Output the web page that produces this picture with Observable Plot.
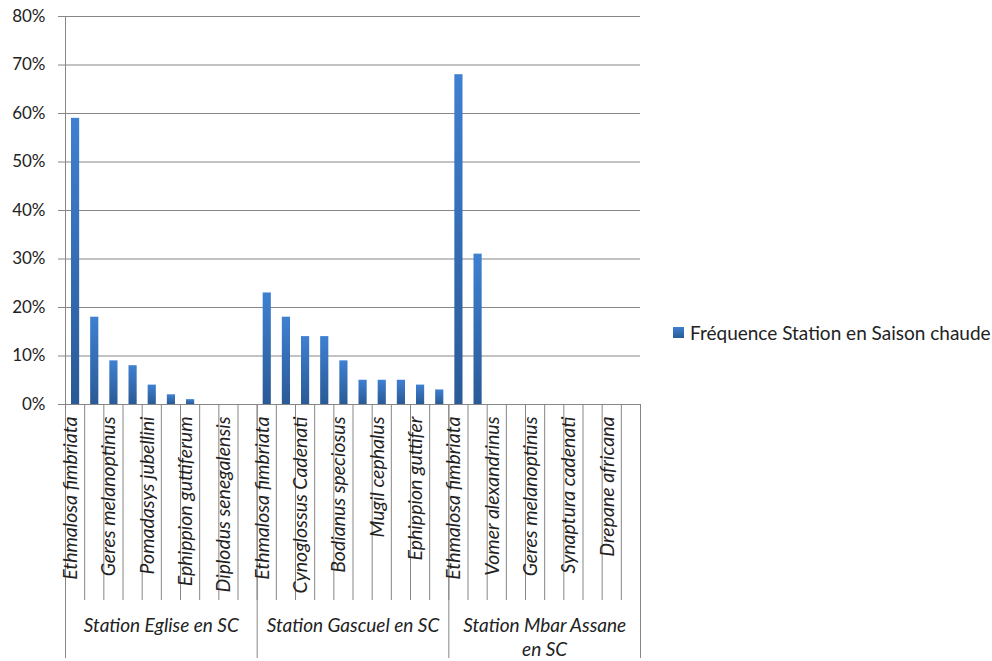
<!DOCTYPE html>
<html><head><meta charset="utf-8">
<script src="https://cdn.jsdelivr.net/npm/d3@7"></script>
<script src="https://cdn.jsdelivr.net/npm/@observablehq/plot@0.6"></script>
<style>
body{margin:0;background:#fff;}
#wrap{position:relative;width:992px;height:661px;}
#legend{position:absolute;left:673px;top:321px;font-family:Lato,sans-serif;font-size:19px;color:#222;display:flex;align-items:center;white-space:nowrap;}
#legend .sw{display:inline-block;width:11px;height:11px;background:linear-gradient(#3f80d1,#2a5a96);margin-right:6px;}
</style></head><body>
<div id="wrap"><div id="legend"><span class="sw"></span>Fréquence Station en Saison chaude</div></div>
<script>
const stations = ["Station Eglise en SC", "Station Gascuel en SC", "Station Mbar Assane\nen SC"];
const speciesEglise = ["Ethmalosa fimbriata", "", "Geres melanoptinus", "", "Pomadasys jubellini", "", "Ephippion guttiferum", "", "Diplodus senegalensis", ""];
const speciesGascuel = ["Ethmalosa fimbriata", "", "Cynoglossus Cadenati", "", "Bodianus speciosus", "", "Mugil cephalus", "", "Ephippion guttifer", ""];
const speciesMbar = ["Ethmalosa fimbriata", "", "Vomer alexandrinus", "", "Geres melanoptinus", "", "Synaptura cadenati", "", "Drepane africana", ""];
const freqEglise = [59, 18, 9, 8, 4, 2, 1, 0, 0, 0];
const freqGascuel = [23, 18, 14, 14, 9, 5, 5, 5, 4, 3];
const freqMbar = [68, 31, 0, 0, 0, 0, 0, 0, 0, 0];
const yTicks = [0, 10, 20, 30, 40, 50, 60, 70, 80];

const speciesLists = [speciesEglise, speciesGascuel, speciesMbar];
const freqLists = [freqEglise, freqGascuel, freqMbar];
const rows = [];
speciesLists.forEach((sp, g) => sp.forEach((s, k) => rows.push({i: rows.length, station: stations[g], species: s, value: freqLists[g][k] / 100})));
const groups = stations.map((s, g) => ({start: g * 10, end: (g + 1) * 10, label: s}));
const catBounds = d3.range(rows.length + 1);
const groupBounds = [0, ...groups.map(d => d.end)];

const grad = () => {
  const defs = d3.create("svg:defs");
  const lg = defs.append("linearGradient").attr("id", "barGrad").attr("x1", 0).attr("y1", 0).attr("x2", 0).attr("y2", 1);
  lg.append("stop").attr("offset", "0%").attr("stop-color", "#3f80d1");
  lg.append("stop").attr("offset", "100%").attr("stop-color", "#2a5a96");
  return defs.node();
};

const chart = Plot.plot({
  width: 992, height: 661,
  marginLeft: 65, marginRight: 352, marginTop: 16, marginBottom: 257,
  style: {fontFamily: "Lato, sans-serif", fontSize: "17px", color: "#222", background: "#fff", overflow: "visible"},
  x: {type: "linear", domain: [0, rows.length], axis: null},
  y: {domain: [0, 0.8], axis: null},
  marks: [
    grad,
    Plot.gridY(yTicks.map(d => d / 100), {stroke: "#868686", strokeOpacity: 1}),
    Plot.axisY(yTicks.map(d => d / 100), {tickFormat: d => Math.round(d * 100) + "%", tickSize: 7, tickPadding: 13, stroke: "#868686", fill: "#222", fontSize: 17, label: null}),
    Plot.ruleX([0], {stroke: "#868686"}),
    Plot.rectY(rows, {x1: d => d.i, x2: d => d.i + 1, y: "value", fill: "url(#barGrad)", insetLeft: 6, insetRight: 5}),
    Plot.axisX(catBounds, {tickSize: 196, tickFormat: () => "", stroke: "#868686", label: null}),
    Plot.axisX(groupBounds, {tickSize: 254, tickFormat: () => "", stroke: "#868686", label: null}),
    Plot.text(rows, {x: d => d.i + 0.5, frameAnchor: "bottom", text: "species", rotate: -90, textAnchor: "end", dy: 12, dx: 2, fontStyle: "italic", fill: "#222", fontSize: 19.5}),
    Plot.text(groups, {x: d => (d.start + d.end) / 2, frameAnchor: "bottom", text: "label", lineAnchor: "top", dy: 211, lineHeight: 1.25, fontStyle: "italic", fill: "#222", fontSize: 19})
  ]
});
document.getElementById("wrap").prepend(chart);
</script>
</body></html>
